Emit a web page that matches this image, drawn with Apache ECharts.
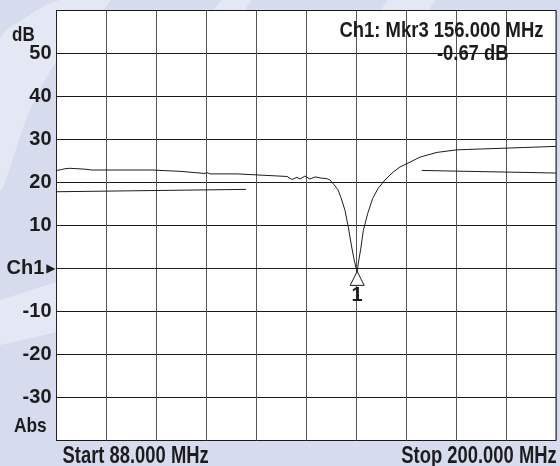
<!DOCTYPE html>
<html><head><meta charset="utf-8">
<script src="https://cdn.jsdelivr.net/npm/echarts@6/dist/echarts.min.js"></script>
<style>html,body{margin:0;padding:0;background:#d6dcee}#c{width:560px;height:466px}</style>
</head><body><div id="c"></div>
<script>
// ---- data ----
const traceFreq = [88.0, 88.35, 89.1, 89.9, 91.0, 94.4, 96.0, 109.4, 113.5, 115.7, 116.0, 121.3, 121.75, 122.4, 128.5, 128.8, 139.7, 140.8, 141.9, 142.6, 143.7, 144.8, 146.0, 147.5, 148.6, 149.32, 150.22, 151.11, 151.79, 152.69, 153.43, 154.19, 154.71, 155.15, 155.42, 155.71, 156.21, 156.79, 157.78, 158.9, 160.09, 161.66, 163.45, 165.02, 166.59, 169.51, 173.32, 177.8, 189.0, 200.0];
const traceDb   = [22.8, 22.6, 23.0, 23.2, 23.3, 23.1, 22.9, 22.9, 22.7, 22.6, 22.2, 22.1, 22.3, 22.0, 22.0, 21.6, 21.4, 20.7, 21.2, 20.8, 21.5, 20.8, 21.3, 21.0, 20.9, 20.6, 19.5, 18.3, 16.5, 13.5, 9.6, 5.0, 2.2, 0.2, -0.67, 1.5, 4.5, 8.8, 12.8, 16.3, 18.6, 20.6, 22.4, 23.6, 24.4, 25.9, 27.0, 27.6, 28.0, 28.4];
const limitLeftFreq  = [88.0, 130.5];
const limitLeftDb    = [17.85, 18.4];
const limitRightFreq = [169.9, 200.0];
const limitRightDb   = [22.8, 22.2];
const yTickValues = [-40, -30, -20, -10, 0, 10, 20, 30, 40, 50, 60];
const yTickLabels = ['', '-30', '-20', '-10', 'Ch1', '10', '20', '30', '40', '50', ''];
const markerFreq = 155.42, markerDb = -0.67, markerName = '1';
const readoutLines = ['Ch1: Mkr3 156.000 MHz', '-0.67 dB'];
const startText = 'Start 88.000 MHz', stopText = 'Stop 200.000 MHz';
const unitText = 'dB', formatText = 'Abs';
const xMin = 88, xMax = 200, xDiv = 11.2;

const FONT = '"Liberation Sans", Arial, sans-serif';
const INK = '#1c1c1c';
const zip = (a, b) => a.map((v, i) => [v, b[i]]);

const chart = echarts.init(document.getElementById('c'), null, {renderer: 'canvas'});

function txt(x, y, text, size, align, sx) {
  return {type: 'text', x: x, y: y, scaleX: sx, z: 100,
    style: {text: text, x: 0, y: 0, fill: INK, font: 'bold ' + size + 'px ' + FONT,
      align: align, verticalAlign: 'middle'}};
}
function poly(points, smooth) {
  return {type: 'polygon', z: -10, shape: {points: points, smooth: smooth || 0}, style: {fill: '#e4e8f4'}};
}

const option = {
  backgroundColor: '#d6dcee',
  animation: false,
  grid: {left: 56.5, top: 10.5, width: 499.5, height: 430, show: true,
    backgroundColor: '#ffffff', borderColor: '#222', borderWidth: 1, containLabel: false},
  xAxis: {type: 'value', min: xMin, max: xMax, interval: xDiv,
    axisLine: {show: true, lineStyle: {color: '#222', width: 1}},
    axisTick: {show: false}, axisLabel: {show: false},
    splitLine: {show: true, lineStyle: {color: '#555', width: 1}}},
  yAxis: {type: 'value', min: -40, max: 60, interval: 10,
    axisLine: {show: true, lineStyle: {color: '#222', width: 1}},
    axisTick: {show: false},
    splitLine: {show: true, lineStyle: {color: '#1a1a1a', width: 1}},
    axisLabel: {margin: 1, color: INK, fontFamily: FONT, fontSize: 20, fontWeight: 'bold',
      formatter: function (v) {
        const i = yTickValues.indexOf(Math.round(v));
        const t = i >= 0 ? yTickLabels[i] : '';
        if (!t) return '';
        if (t === 'Ch1') return '{c|' + t + '}{t|▶}';
        return '{n|' + t + '}{s|}';
      },
      rich: {
        n: {fontFamily: FONT, fontSize: 20, fontWeight: 'bold', color: INK},
        s: {width: 4},
        c: {fontFamily: FONT, fontSize: 20, fontWeight: 'bold', color: INK, padding: [0, 2, 0, 0]},
        t: {fontFamily: 'DejaVu Sans', fontSize: 12, color: INK}
      }}},
  series: [
    {type: 'line', data: zip(traceFreq, traceDb), showSymbol: false, symbol: 'none',
      lineStyle: {color: INK, width: 1}, z: 5,
      markPoint: {symbol: 'triangle', symbolSize: [14, 14], symbolOffset: [0, 7],
        itemStyle: {color: '#ffffff', borderColor: INK, borderWidth: 1},
        label: {show: true, formatter: markerName, position: 'inside', offset: [0, 17],
          color: INK, fontFamily: FONT, fontWeight: 'bold', fontSize: 20},
        data: [{coord: [markerFreq, markerDb]}]}},
    {type: 'line', data: zip(limitLeftFreq, limitLeftDb), showSymbol: false, symbol: 'none',
      lineStyle: {color: INK, width: 1}, z: 4},
    {type: 'line', data: zip(limitRightFreq, limitRightDb), showSymbol: false, symbol: 'none',
      lineStyle: {color: INK, width: 1}, z: 4}
  ],
  graphic: {elements: [
    poly([[0, 40], [25, 18], [60, 0], [110, 0], [70, 40], [30, 110], [0, 190]], 0.3),
    poly([[0, 300], [57, 282], [57, 332], [0, 345]]),
    poly([[222, 0], [252, 0], [244, 11], [212, 11]]),
    poly([[388, 0], [436, 0], [428, 11], [380, 11]]),
    txt(12, 35.7, unitText, 20, 'left', 0.85),
    txt(14, 426, formatText, 20.5, 'left', 0.845),
    txt(543.5, 30.3, readoutLines[0], 22.5, 'right', 0.82),
    txt(508.5, 53.8, readoutLines[1], 22.5, 'right', 0.818),
    txt(62.5, 456.8, startText, 23, 'left', 0.80),
    txt(556.7, 456.8, stopText, 23, 'right', 0.80)
  ]}
};
chart.setOption(option);
</script></body></html>
